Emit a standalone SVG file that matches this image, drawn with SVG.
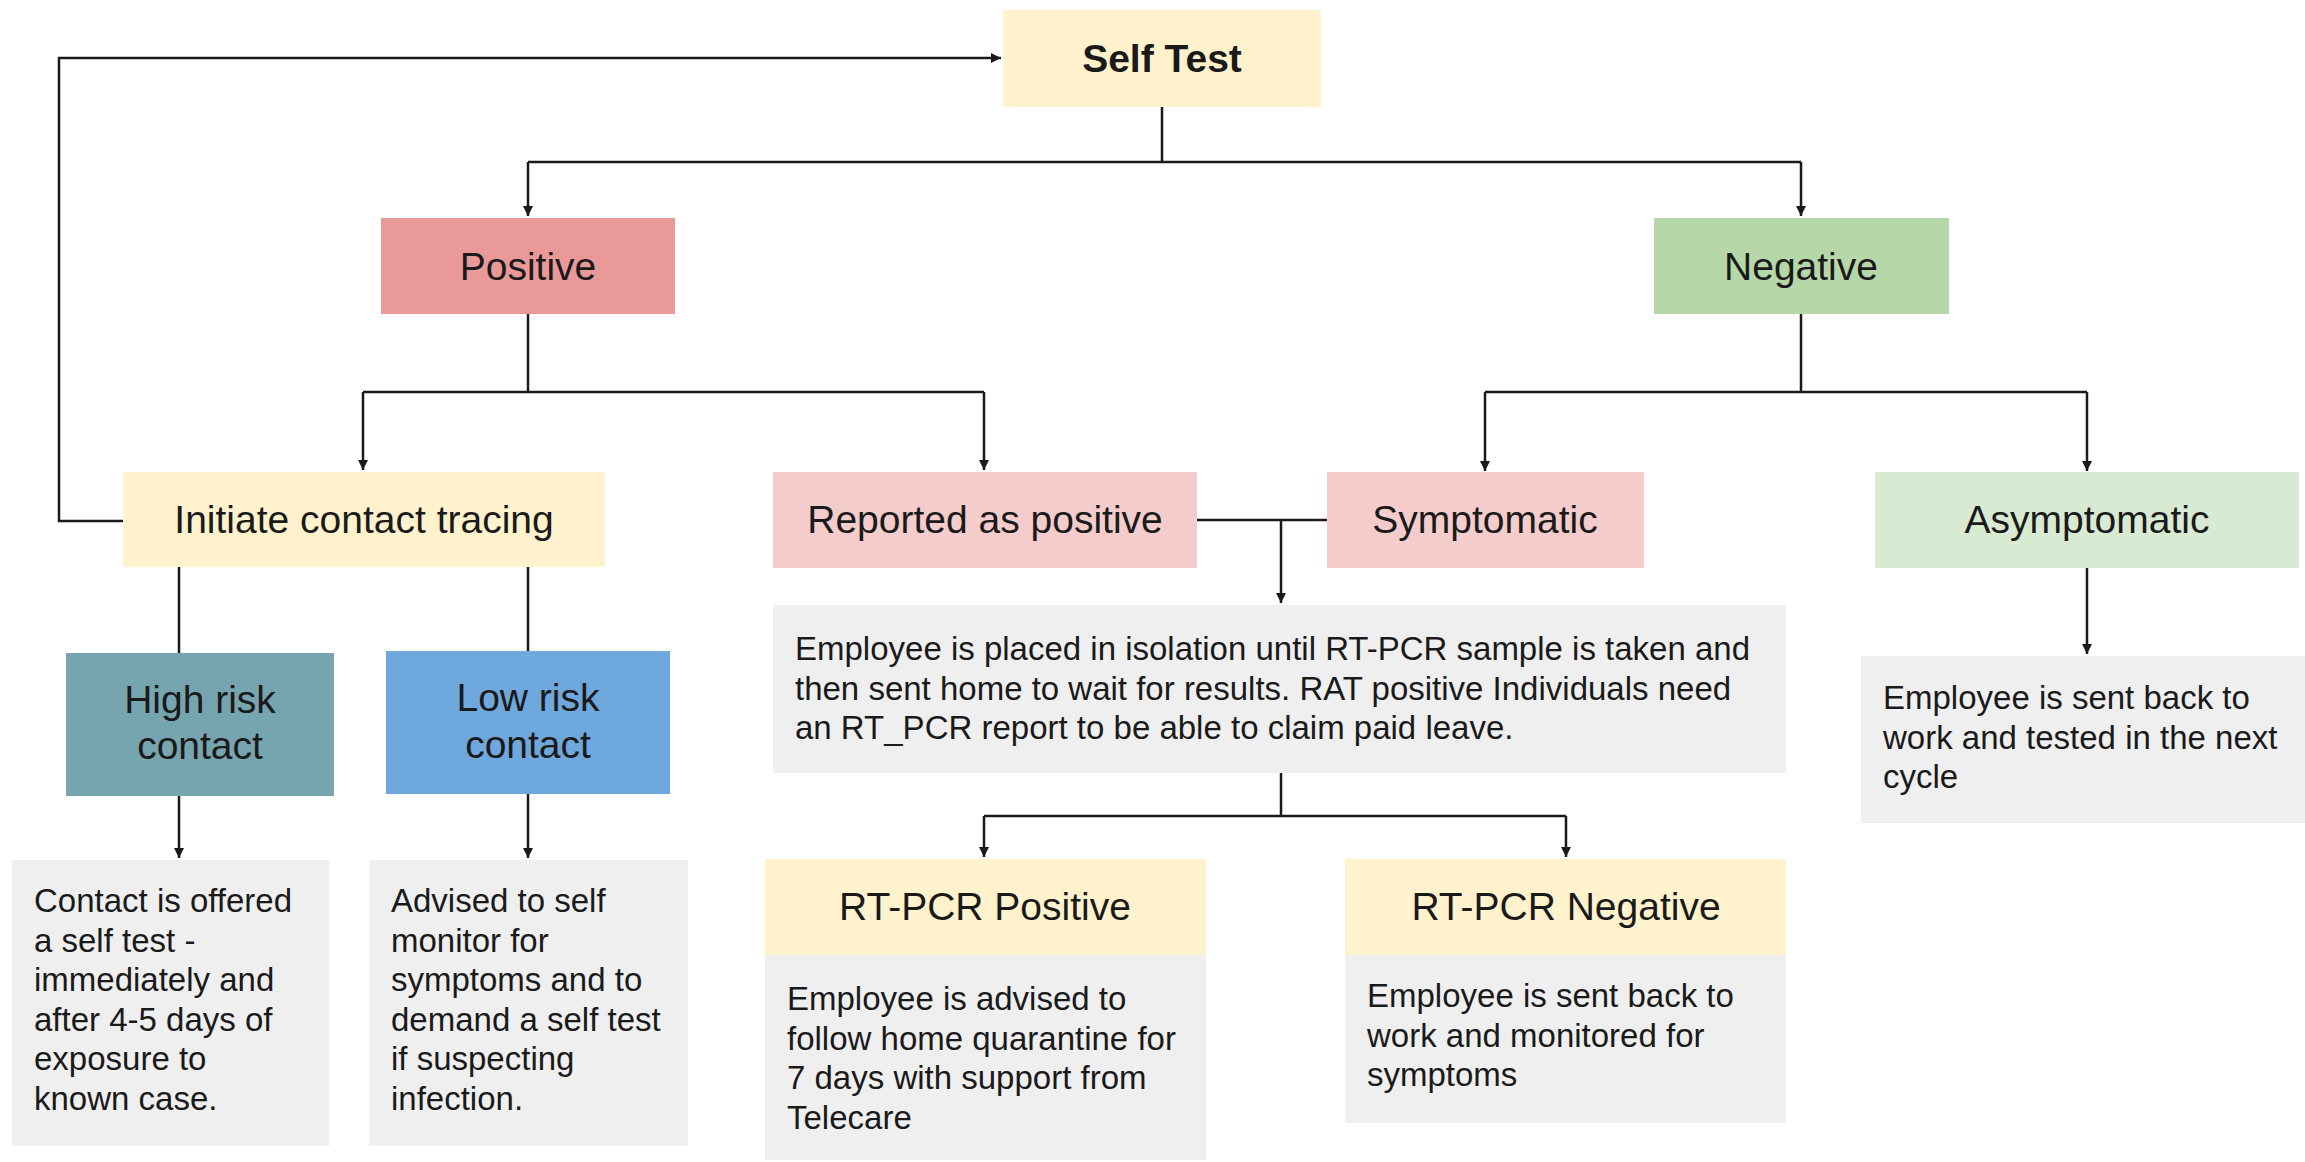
<svg xmlns="http://www.w3.org/2000/svg" width="2305" height="1162" viewBox="0 0 2305 1162">
<defs>
<marker id="ah" markerWidth="12" markerHeight="12" refX="10" refY="5" orient="auto" markerUnits="userSpaceOnUse">
<path d="M0,0 L10,5 L0,10 z" fill="#1a1a1a"/>
</marker>
<style>
text{font-family:"Liberation Sans",Arial,sans-serif;fill:#1a1a1a}
.lbl{font-size:39px;text-anchor:middle}
.bold{font-weight:bold}
.body{font-size:33px}
.c{fill:none;stroke:#1a1a1a;stroke-width:2.5}
.a{marker-end:url(#ah)}
.yel{fill:#fff2cc}
.red{fill:#ea9999}
.pink{fill:#f4cccc}
.grn{fill:#b6d7a8}
.lgrn{fill:#d9ead3}
.teal{fill:#76a5af}
.blue{fill:#6fa8dc}
.gray{fill:#efefef}
</style>
</defs>
<rect width="2305" height="1162" fill="#ffffff"/>

<g id="connectors">
<path class="c a" d="M123,521 H59 V58 H1001"/>
<path class="c" d="M1162,107 V162"/>
<path class="c" d="M528,162 H1801"/>
<path class="c a" d="M528,162 V216"/>
<path class="c a" d="M1801,162 V216"/>
<path class="c" d="M528,314 V392"/>
<path class="c" d="M363,392 H984"/>
<path class="c a" d="M363,392 V470"/>
<path class="c a" d="M984,392 V470"/>
<path class="c" d="M1801,314 V392"/>
<path class="c" d="M1485,392 H2087"/>
<path class="c a" d="M1485,392 V471"/>
<path class="c a" d="M2087,392 V471"/>
<path class="c" d="M179,567 V653"/>
<path class="c" d="M528,567 V651"/>
<path class="c a" d="M179,796 V858"/>
<path class="c a" d="M528,794 V858"/>
<path class="c" d="M1197,520 H1327"/>
<path class="c a" d="M1281,520 V603"/>
<path class="c" d="M1281,773 V816"/>
<path class="c" d="M984,816 H1566"/>
<path class="c a" d="M984,816 V857"/>
<path class="c a" d="M1566,816 V857"/>
<path class="c a" d="M2087,568 V654"/>
</g>

<g id="self-test">
<rect class="yel" x="1003" y="10" width="318" height="97"/>
<text class="lbl bold" x="1162" y="72">Self Test</text>
</g>

<g id="positive">
<rect class="red" x="381" y="218" width="294" height="96"/>
<text class="lbl" x="528" y="280">Positive</text>
</g>

<g id="negative">
<rect class="grn" x="1654" y="218" width="295" height="96"/>
<text class="lbl" x="1801" y="280">Negative</text>
</g>

<g id="initiate-contact-tracing">
<rect class="yel" x="123" y="472" width="482" height="95"/>
<text class="lbl" x="364" y="533">Initiate contact tracing</text>
</g>

<g id="reported-as-positive">
<rect class="pink" x="773" y="472" width="424" height="96"/>
<text class="lbl" x="985" y="533">Reported as positive</text>
</g>

<g id="symptomatic">
<rect class="pink" x="1327" y="472" width="317" height="96"/>
<text class="lbl" x="1485" y="533">Symptomatic</text>
</g>

<g id="asymptomatic">
<rect class="lgrn" x="1875" y="472" width="424" height="96"/>
<text class="lbl" x="2087" y="533">Asymptomatic</text>
</g>

<g id="high-risk-contact">
<rect class="teal" x="66" y="653" width="268" height="143"/>
<text class="lbl" x="200" y="713">High risk</text>
<text class="lbl" x="200" y="759">contact</text>
</g>

<g id="low-risk-contact">
<rect class="blue" x="386" y="651" width="284" height="143"/>
<text class="lbl" x="528" y="711">Low risk</text>
<text class="lbl" x="528" y="758">contact</text>
</g>

<g id="high-risk-action">
<rect class="gray" x="12" y="860" width="317" height="286"/>
<text class="body" x="34" y="912">Contact is offered</text>
<text class="body" x="34" y="951.5">a self test -</text>
<text class="body" x="34" y="991">immediately and</text>
<text class="body" x="34" y="1030.5">after 4-5 days of</text>
<text class="body" x="34" y="1070">exposure to</text>
<text class="body" x="34" y="1109.5">known case.</text>
</g>

<g id="low-risk-action">
<rect class="gray" x="369" y="860" width="319" height="286"/>
<text class="body" x="391" y="912">Advised to self</text>
<text class="body" x="391" y="951.5">monitor for</text>
<text class="body" x="391" y="991">symptoms and to</text>
<text class="body" x="391" y="1030.5">demand a self test</text>
<text class="body" x="391" y="1070">if suspecting</text>
<text class="body" x="391" y="1109.5">infection.</text>
</g>

<g id="isolation">
<rect class="gray" x="773" y="605" width="1013" height="168"/>
<text class="body" x="795" y="660">Employee is placed in isolation until RT-PCR sample is taken and</text>
<text class="body" x="795" y="699.5">then sent home to wait for results. RAT positive Individuals need</text>
<text class="body" x="795" y="739">an RT_PCR report to be able to claim paid leave.</text>
</g>

<g id="asymptomatic-action">
<rect class="gray" x="1861" y="656" width="444" height="167"/>
<text class="body" x="1883" y="709">Employee is sent back to</text>
<text class="body" x="1883" y="748.5">work and tested in the next</text>
<text class="body" x="1883" y="788">cycle</text>
</g>

<g id="rt-pcr-positive">
<rect class="yel" x="765" y="859" width="441" height="96"/>
<rect class="gray" x="765" y="955" width="441" height="205"/>
<text class="lbl" x="985" y="920">RT-PCR Positive</text>
<text class="body" x="787" y="1010">Employee is advised to</text>
<text class="body" x="787" y="1049.5">follow home quarantine for</text>
<text class="body" x="787" y="1089">7 days with support from</text>
<text class="body" x="787" y="1128.5">Telecare</text>
</g>

<g id="rt-pcr-negative">
<rect class="yel" x="1345" y="859" width="441" height="96"/>
<rect class="gray" x="1345" y="955" width="441" height="168"/>
<text class="lbl" x="1566" y="920">RT-PCR Negative</text>
<text class="body" x="1367" y="1007">Employee is sent back to</text>
<text class="body" x="1367" y="1046.5">work and monitored for</text>
<text class="body" x="1367" y="1086">symptoms</text>
</g>
</svg>
